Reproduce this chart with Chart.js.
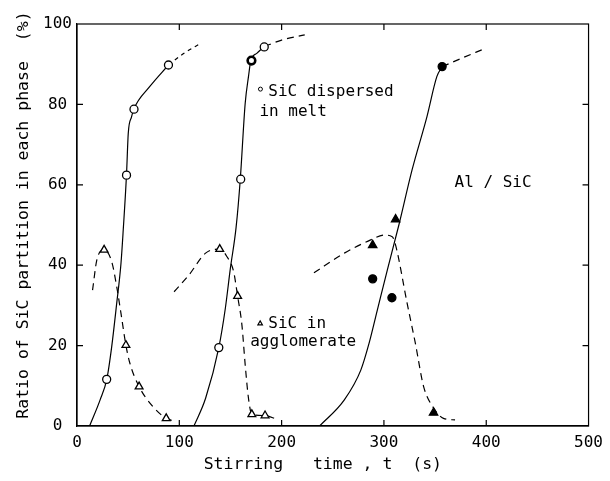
<!DOCTYPE html>
<html>
<head>
<meta charset="utf-8">
<script src="https://cdn.jsdelivr.net/npm/chart.js@4/dist/chart.umd.min.js"></script>
<style>
html,body{margin:0;padding:0;background:#fff;}
#wrap{width:610px;height:481px;}
</style>
</head>
<body>
<div id="wrap"><canvas id="c" width="610" height="481"></canvas></div>
<script>
// ---- data ----
const xTicks = [0, 100, 200, 300, 400, 500];
const yTicks = [0, 20, 40, 60, 80, 100];

// SiC dispersed in melt: measured points
const meltPts1X = [29, 48.4, 55.7, 89.4];
const meltPts1Y = [11.6, 62.4, 78.8, 89.8];
const meltPts2X = [138.6, 160, 183];
const meltPts2Y = [19.5, 61.4, 94.3];
const meltBoldX = [170.5];
const meltBoldY = [90.9];
const meltPts3X = [289, 307.8, 356.9];
const meltPts3Y = [36.6, 31.9, 89.4];

// SiC in agglomerate: measured points
const aggPts1X = [26.5, 47.8, 60.7, 87.2];
const aggPts1Y = [43.8, 20.1, 9.8, 1.9];
const aggPts2X = [139.5, 157, 170.9, 183.8];
const aggPts2Y = [44, 32.3, 2.9, 2.6];
const aggPts3X = [289, 311.4, 348.5];
const aggPts3Y = [45, 51.4, 3.3];

// fitted curves (solid) for melt
const meltFit1X = [12.3, 22.6, 29.1, 33.9, 38.8, 43, 45.2, 48.4, 50.1, 53.3, 55.5, 71, 89.4];
const meltFit1Y = [0, 6.5, 11.6, 19.7, 30.5, 40.5, 48.8, 62.6, 72.8, 76.9, 78.8, 84.4, 89.8];
const meltFit2X = [114.3, 125.7, 138.6, 145, 149.9, 155.5, 159.6, 164.4, 167.6, 169.9, 175.7, 183.1];
const meltFit2Y = [0, 6.9, 19.5, 29.3, 39.2, 49.4, 61.4, 80.3, 86.9, 90.9, 92.7, 94.4];
const meltFit3X = [237.1, 261.3, 277.4, 285.5, 293.6, 303.3, 314.6, 327.5, 342, 351.7, 356.9];
const meltFit3Y = [0, 6.5, 13.9, 20.6, 28.9, 38.8, 50, 63.7, 76.9, 86.9, 89.4];
// extrapolated (dashed) parts for melt
const meltExt1X = [89.4, 105, 121];
const meltExt1Y = [89.8, 92.8, 95.2];
const meltExt2X = [183.1, 200, 222.6];
const meltExt2Y = [94.4, 96, 97.3];
const meltExt3X = [356.9, 377, 396.8];
const meltExt3Y = [89.4, 91.6, 93.7];

// dashed curves for agglomerate
const aggFit1X = [15.2, 19.4, 26.5, 33.9, 38.8, 43, 47.8, 51.7, 60.7, 74.3, 87.2, 96.9];
const aggFit1Y = [33.8, 41.3, 43.8, 40.9, 34.7, 28, 20.1, 15.6, 9.8, 4.8, 1.9, 1.1];
const aggFit2X = [94.9, 109.5, 125.7, 139.5, 146.6, 153.1, 157, 161.2, 164.4, 167.6, 170.9, 183.8, 195];
const aggFit2Y = [33.4, 37.6, 43, 44, 42.1, 38.4, 32.3, 25.1, 15.2, 6.9, 2.9, 2.6, 1.7];
const aggFit3X = [231.6, 261.3, 287.1, 300.1, 308.1, 311.4, 322.7, 330.7, 338.8, 348.5, 358.2, 369.5];
const aggFit3Y = [38.1, 43, 46.3, 47.5, 47.1, 45, 30.5, 20.6, 9.8, 4.5, 1.9, 1.5];

// text
const xTitle = 'Stirring   time , t  (s)  ';
const yTitle = '  Ratio of SiC partition in each phase  (%)';
const noteTexts = ['SiC dispersed', 'in melt', 'SiC in', 'agglomerate', 'Al / SiC'];

// ---- build ----
const FONT = "'DejaVu Sans Mono', 'Liberation Mono', monospace";
const zip = (xs, ys) => xs.map((v, i) => ({x: v, y: ys[i]}));

function pts(xs, ys, style, fill, r, bw) {
  return {type: 'scatter', data: zip(xs, ys), pointStyle: style, pointRadius: r || 4,
    backgroundColor: fill, borderColor: '#000', borderWidth: bw || 1.3, showLine: false, order: 0};
}
function curve(xs, ys, dash) {
  return {type: 'line', data: zip(xs, ys), borderColor: '#000', borderWidth: 1.2,
    borderDash: dash || [], pointRadius: 0, fill: false, cubicInterpolationMode: 'monotone', order: 1};
}

const datasets = [
  pts(meltPts1X, meltPts1Y, 'circle', '#fff', 4),
  pts(meltPts2X, meltPts2Y, 'circle', '#fff', 4),
  pts(meltBoldX, meltBoldY, 'circle', '#fff', 3.8, 2.6),
  pts(meltPts3X, meltPts3Y, 'circle', '#000', 4),
  pts(aggPts1X, aggPts1Y, 'triangle', '#fff', 4.5),
  pts(aggPts2X, aggPts2Y, 'triangle', '#fff', 4.5),
  pts(aggPts3X, aggPts3Y, 'triangle', '#000', 4.8),
  pts([179.3], [83.8], 'circle', '#fff', 2, 1),
  pts([179], [25.5], 'triangle', '#fff', 2.6, 1.2),
  curve(meltFit1X, meltFit1Y),
  curve(meltFit2X, meltFit2Y),
  curve(meltFit3X, meltFit3Y),
  curve(meltExt1X, meltExt1Y, [4, 4]),
  curve(meltExt2X, meltExt2Y, [7, 5]),
  curve(meltExt3X, meltExt3Y, [7, 5]),
  curve(aggFit1X, aggFit1Y, [7, 5]),
  curve(aggFit2X, aggFit2Y, [7, 5]),
  curve(aggFit3X, aggFit3Y, [7, 5])
];

const notes = [
  {i: 0, x: 187, y: 83.2, align: 'left'},
  {i: 1, x: 178.3, y: 78.2, align: 'left'},
  {i: 2, x: 187, y: 25.4, align: 'left'},
  {i: 3, x: 169.3, y: 20.9, align: 'left'},
  {i: 4, x: 406.7, y: 60.4, align: 'center'}
];

const decor = {
  id: 'decor',
  afterDraw(chart) {
    const {ctx, chartArea: a, scales: {x, y}} = chart;
    ctx.save();
    ctx.strokeStyle = '#000';
    ctx.lineWidth = 1.2;
    ctx.strokeRect(a.left, a.top, a.right - a.left, a.bottom - a.top);
    const L = 6;
    ctx.beginPath();
    xTicks.forEach(v => {
      if (v === x.min || v === x.max) return;
      const p = x.getPixelForValue(v);
      ctx.moveTo(p, a.bottom); ctx.lineTo(p, a.bottom - L);
      ctx.moveTo(p, a.top); ctx.lineTo(p, a.top + L);
    });
    yTicks.forEach(v => {
      if (v === y.min || v === y.max) return;
      const p = y.getPixelForValue(v);
      ctx.moveTo(a.left, p); ctx.lineTo(a.left + L, p);
      ctx.moveTo(a.right, p); ctx.lineTo(a.right - L, p);
    });
    ctx.stroke();
    ctx.fillStyle = '#000';
    ctx.font = '16px ' + FONT;
    ctx.textBaseline = 'middle';
    notes.forEach(n => {
      ctx.textAlign = n.align;
      ctx.fillText(noteTexts[n.i], x.getPixelForValue(n.x), y.getPixelForValue(n.y));
    });
    ctx.restore();
  }
};

new Chart(document.getElementById('c'), {
  data: {datasets},
  plugins: [decor],
  options: {
    responsive: false,
    animation: false,
    layout: {padding: {top: 24, right: 17, left: 0, bottom: 0}},
    plugins: {legend: {display: false}, tooltip: {enabled: false}},
    scales: {
      x: {
        type: 'linear', min: 0, max: 500,
        afterBuildTicks: s => { s.ticks = xTicks.map(v => ({value: v})); },
        ticks: {padding: 7, color: '#000', font: {family: FONT, size: 16}, maxRotation: 0},
        grid: {display: false, drawTicks: false},
        border: {display: true, color: '#000', width: 1.2},
        title: {display: true, text: xTitle, color: '#000', font: {family: FONT, size: 16.5}, padding: {top: 0, bottom: 6}},
        afterFit: s => { s.height = 55; }
      },
      y: {
        type: 'linear', min: 0, max: 100,
        afterBuildTicks: s => { s.ticks = yTicks.map(v => ({value: v})); },
        ticks: {padding: 5, crossAlign: 'center', color: '#000', font: {family: FONT, size: 16}},
        grid: {display: false, drawTicks: false},
        border: {display: true, color: '#000', width: 1.2},
        title: {display: true, text: yTitle, color: '#000', font: {family: FONT, size: 16.5}, padding: {top: 14, bottom: 0}},
        afterFit: s => { s.width = 77; }
      }
    }
  }
});
</script>
</body>
</html>
